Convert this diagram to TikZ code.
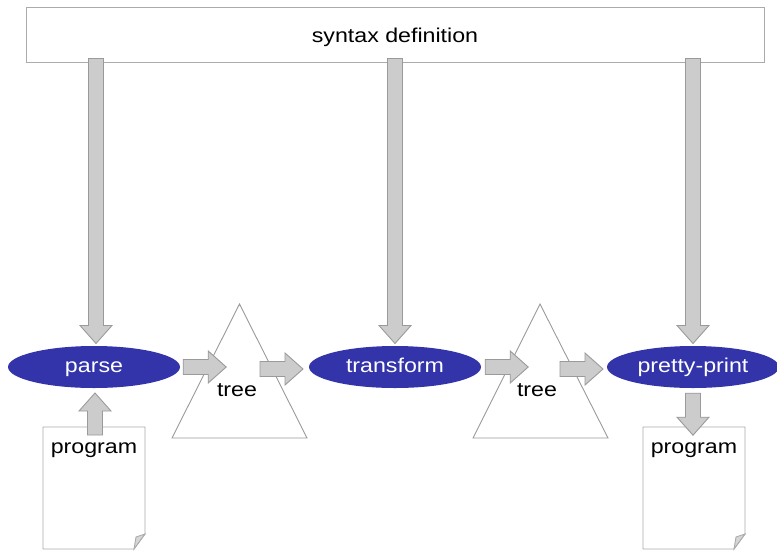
\documentclass[tikz,border=0pt]{standalone}
\usepackage{fontspec}
\setmainfont{Liberation Sans}[FakeStretch=1.16]
\usetikzlibrary{shapes.geometric,calc}
\definecolor{ellblue}{HTML}{3333AA}
\definecolor{arrfill}{HTML}{CCCCCC}
\definecolor{arrline}{HTML}{9A9A9A}
\definecolor{frame}{HTML}{ABABAB}
\tikzset{
  lbl/.style={text height=14, text depth=4, inner sep=0},
  synbox/.style={draw=frame, line width=1, fill=white, minimum width=738, minimum height=55, lbl},
  stage/.style={ellipse, fill=ellblue, text=white, minimum width=172, minimum height=42, lbl},
  treeline/.style={draw=arrline, line width=0.9, fill=white},
  docline/.style={draw=frame, line width=0.9, fill=white},
  foldfill/.style={draw=frame, line width=0.9, fill=arrfill!80!white},
  arrowbody/.style={draw=arrline, line width=0.9, fill=arrfill},
  pics/barrow/.style={code={
    \draw[arrowbody] (0,-7.5) -- ({#1-18},-7.5) -- ({#1-18},-16) -- (#1,0)
      -- ({#1-18},16) -- ({#1-18},7.5) -- (0,7.5) -- cycle;}}
}
\begin{document}
\begin{tikzpicture}[x=1pt,y=1pt,font=\fontsize{20}{24}\selectfont]
\useasboundingbox (0,0) rectangle (777,-550);

% syntax definition box
\node[synbox] (syn) at (395,-34.5) {\raisebox{-3pt}{syntax definition}};

% trees
\coordinate (t1apex) at (239.5,-304);
\coordinate (t2apex) at (540,-304);
\draw[treeline] (t1apex) -- (307,-438) -- (172,-438) -- cycle;
\draw[treeline] (t2apex) -- (608,-438) -- (473,-438) -- cycle;
\node[lbl] (tree1) at (237,-391) {tree};
\node[lbl] (tree2) at (537,-391) {tree};

% documents
\draw[docline] (43,-427) -- (145,-427) -- (145,-534) -- (134,-549) -- (43,-549) -- cycle;
\draw[foldfill] (145,-534) -- (136,-537) -- (134,-549) -- cycle;
\draw[docline] (643,-427) -- (745,-427) -- (745,-534) -- (734,-549) -- (643,-549) -- cycle;
\draw[foldfill] (745,-534) -- (736,-537) -- (734,-549) -- cycle;
\node[lbl] (prog1) at (94,-448.5) {program};
\node[lbl] (prog2) at (694,-448.5) {program};

% stages
\node[stage] (parse) at (94,-367) {parse};
\node[stage] (transform) at (395,-367) {transform};
\node[stage] (pretty) at (693,-367) {pretty-print};

% arrows from syntax definition
\pic[rotate=-90] at ($(syn.south -| parse)+(2,4)$) {barrow=285};
\pic[rotate=-90] at ($(syn.south -| transform)+(0,4)$) {barrow=285};
\pic[rotate=-90] at ($(syn.south -| pretty)+(0,4)$) {barrow=285};

% pipeline arrows
\pic at ($(parse.east)+(3,0)$) {barrow=43};
\pic at (260,-369) {barrow=43};
\pic at ($(transform.east)+(4,0)$) {barrow=43};
\pic at (560,-369) {barrow=43};

% program in / out
\pic[rotate=90] at (95,-435) {barrow=42};
\pic[rotate=-90] at ($(pretty.south)+(0,-5)$) {barrow=42};
\end{tikzpicture}
\end{document}
